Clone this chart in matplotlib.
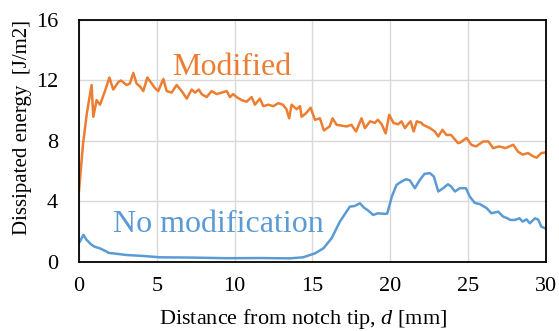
import matplotlib
matplotlib.use("Agg")
import matplotlib.pyplot as plt

# Modified series (d in mm, energy in J/m2)
mod_d = [0.0, 0.26, 0.5, 0.81, 0.92, 1.13, 1.35, 1.67, 1.95, 2.2, 2.53, 2.7, 3.06, 3.27, 3.49, 3.7,
         3.92, 4.13, 4.39, 4.67, 4.88, 5.09, 5.42, 5.63, 5.95, 6.27, 6.6, 6.92, 7.24, 7.45, 7.7, 7.88,
         8.2, 8.52, 8.84, 9.17, 9.49, 9.7, 9.9, 10.13, 10.45, 10.77, 11.09, 11.3, 11.62, 11.84, 12.16,
         12.48, 12.8, 13.1, 13.33, 13.5, 13.66, 13.98, 14.2, 14.3, 14.6, 14.88, 15.16, 15.48, 15.73,
         16.1, 16.29, 16.55, 17.2, 17.5, 17.8, 18.15, 18.37, 18.7, 19.0, 19.2, 19.45, 19.7, 19.93,
         20.2, 20.5, 20.72, 20.94, 21.2, 21.3, 21.5, 21.7, 22.0, 22.1, 22.55, 22.86, 23.08, 23.35,
         23.6, 23.9, 24.35, 24.5, 24.9, 25.2, 25.5, 25.97, 26.3, 26.6, 27.0, 27.4, 27.9, 28.2, 28.5,
         28.85, 29.2, 29.4, 29.7, 30.0]
mod_e = [4.7, 7.8, 9.8, 11.7, 9.6, 10.7, 10.4, 11.3, 12.2, 11.4, 11.9, 12.0, 11.7, 11.8, 12.5, 11.8,
         11.6, 11.3, 12.2, 11.8, 11.5, 11.3, 12.1, 11.3, 11.2, 11.7, 11.3, 10.8, 11.4, 11.2, 11.4, 11.1,
         10.9, 11.3, 11.1, 11.2, 11.3, 10.9, 11.1, 10.9, 10.7, 10.6, 10.9, 10.4, 10.8, 10.3, 10.4,
         10.3, 10.5, 10.4, 10.1, 9.5, 10.4, 10.1, 10.3, 9.6, 9.85, 10.2, 9.4, 9.5, 8.7,
         8.96, 9.5, 9.07, 8.96, 9.07, 8.63, 9.5, 8.85, 9.3, 9.2, 9.4, 9.1, 8.5, 9.73,
         9.2, 9.1, 9.3, 8.85, 9.2, 9.3, 8.63, 9.3, 9.2, 9.07, 8.85, 8.63, 8.3, 8.74,
         8.4, 8.4, 7.86, 7.9, 8.2, 7.75, 7.64, 7.97, 7.97, 7.53, 7.64, 7.53, 7.75, 7.3, 7.1,
         7.2, 6.97, 6.9, 7.2, 7.25]

# No modification series
nomod_d = [0.0, 0.06, 0.28, 0.49, 0.81, 1.03, 1.35, 1.78, 1.9, 2.2, 3.06, 4.1, 5.2, 7.35, 9.5, 11.6,
           13.55, 14.4, 15.16, 15.7, 16.23, 16.76, 17.4, 17.7, 18.05, 18.3, 18.58, 18.9, 19.2, 19.65,
           19.8, 20.1, 20.4, 20.72, 21.0, 21.25, 21.58, 21.9, 22.2, 22.55, 22.8, 23.08, 23.4, 23.7,
           23.9, 24.15, 24.47, 24.86, 25.1, 25.43, 25.75, 26.2, 26.5, 26.93, 27.25, 27.5, 27.7, 28.0,
           28.3, 28.5, 28.75, 28.96, 29.3, 29.5, 29.7, 30.0]
nomod_e = [1.3, 1.35, 1.79, 1.46, 1.13, 1.0, 0.9, 0.68, 0.6, 0.57, 0.46, 0.4, 0.31, 0.29, 0.25, 0.26,
           0.24, 0.31, 0.57, 0.9, 1.57, 2.67, 3.66, 3.7, 3.88, 3.6, 3.4, 3.11, 3.22, 3.18,
           3.2, 4.33, 5.1, 5.32, 5.47, 5.4, 4.88, 5.43, 5.83, 5.87, 5.65, 4.66, 4.88, 5.14,
           5.0, 4.66, 4.88, 4.88, 4.33, 3.9, 3.83, 3.55, 3.22, 3.33, 3.0, 2.9, 2.78, 2.78,
           2.89, 2.67, 2.82, 2.56, 2.89, 2.8, 2.34, 2.2]

xticks = [0, 5, 10, 15, 20, 25, 30]
yticks = [0, 4, 8, 12, 16]

ORANGE = "#ED7D31"
BLUE = "#5B9BD5"

plt.rcParams['font.family'] = ['Liberation Serif', 'DejaVu Serif']
plt.rcParams['mathtext.fontset'] = 'custom'
plt.rcParams['mathtext.it'] = 'Liberation Serif:italic'
plt.rcParams['mathtext.rm'] = 'Liberation Serif'

fig = plt.figure(figsize=(5.59, 3.31), dpi=100)
ax = fig.add_axes([0.1413, 0.2085, 0.8354, 0.7311])

ax.plot(mod_d, mod_e, color=ORANGE, lw=1.8, solid_joinstyle='round')
ax.plot(nomod_d, nomod_e, color=BLUE, lw=1.8, solid_joinstyle='round')

ax.set_xlim(0, 30)
ax.set_ylim(0, 16)
ax.set_xticks(xticks)
ax.set_yticks(yticks)
ax.grid(True, color="#d9d9d9", lw=1.0)
ax.set_axisbelow(True)
for s in ax.spines.values():
    s.set_color("black")
    s.set_linewidth(1.3)
ax.tick_params(length=0, labelsize=16, colors="black")
ax.tick_params(axis='y', pad=15)
ax.tick_params(axis='x', pad=11)

ax.set_xlabel("Distance from notch tip, $d$ [mm]", fontsize=16)
ax.xaxis.set_label_coords(0.481, -0.258)
ax.xaxis.label.set_va('baseline')
ax.set_ylabel("Dissipated energy  [J/m2]", fontsize=15)
ax.yaxis.set_label_coords(-0.10, 0.554)

ax.text(6.0, 12.36, "Modified", color=ORANGE, fontsize=23, ha="left", va="baseline")
ax.text(2.18, 2.0, "No modification", color=BLUE, fontsize=23, ha="left", va="baseline")

fig.savefig("out.png", dpi=100)
